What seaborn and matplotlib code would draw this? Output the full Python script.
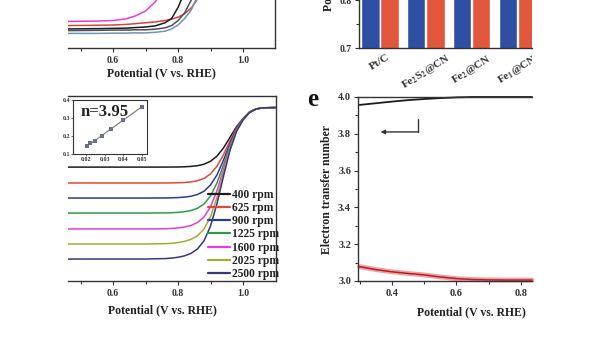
import matplotlib
matplotlib.use("Agg")
import matplotlib.pyplot as plt
from matplotlib.transforms import Bbox, TransformedBbox
import pandas as pd
import seaborn as sns

# ---------------- data ----------------
# top-left panel: LSV curves of the catalysts (only the lower part is visible)
lsv_E = [0.46, 0.55, 0.60, 0.64, 0.67, 0.70, 0.73, 0.76, 0.78, 0.80, 0.82, 0.84,
         0.86, 0.88, 0.90, 0.95, 1.00, 1.05, 1.10]
lsv_names = ["c1", "c2", "c3", "c4", "c5"]
lsv_c1 = [-5.25, -5.24, -5.22, -5.16, -5.05, -4.88, -4.55, -4.00, -3.60, -3.15, -2.70, -2.25,
          -1.80, -1.40, -1.05, -0.40, -0.08, -0.01, 0.0]
lsv_c2 = [-5.40, -5.39, -5.38, -5.36, -5.33, -5.30, -5.27, -5.22, -5.17, -5.10, -4.98, -4.78,
          -4.45, -4.00, -3.40, -1.50, -0.30, -0.05, 0.0]
lsv_c3 = [-5.52, -5.51, -5.50, -5.49, -5.47, -5.45, -5.41, -5.30, -5.15, -4.75, -4.20, -3.60,
          -3.00, -2.30, -1.60, -0.40, -0.05, 0.0, 0.0]
lsv_c4 = [-5.58, -5.57, -5.56, -5.56, -5.55, -5.55, -5.53, -5.48, -5.40, -5.22, -4.95, -4.50,
          -3.90, -3.20, -2.40, -0.70, -0.10, -0.01, 0.0]
lsv_c5 = [-5.68, -5.68, -5.67, -5.67, -5.66, -5.66, -5.64, -5.60, -5.52, -5.38, -5.15, -4.85,
          -4.35, -3.60, -2.70, -0.90, -0.12, -0.01, 0.0]
lsv_colors = ["#e040d8", "#d9443a", "#1c1c1c", "#4a4f5a", "#6f93b0"]

# top-right panel: bar chart of potentials
bar_cats = ["Pt/C", "Fe$_2$S$_2$@CN", "Fe$_2$@CN", "Fe$_1$@CN"]
bar_onset = [0.98, 0.97, 0.95, 0.93]
bar_half = [0.85, 0.88, 0.86, 0.84]

# bottom-left panel: LSV at different rotation rates
rpm_E = [0.46, 0.70, 0.76, 0.78, 0.80, 0.82, 0.84, 0.86, 0.88, 0.90, 0.92, 0.94, 0.96,
         0.98, 1.00, 1.02, 1.04, 1.06, 1.10]
rpm_labels = ["400 rpm", "625 rpm", "900 rpm", "1225 rpm", "1600 rpm", "2025 rpm", "2500 rpm"]
j_400 = [-2.06, -2.06, -2.059, -2.057, -2.055, -2.049, -2.036, -2.011, -1.960, -1.859, -1.679,
         -1.396, -1.030, -0.664, -0.380, -0.15, -0.05, -0.01, 0.0]
j_625 = [-2.61, -2.61, -2.608, -2.606, -2.601, -2.592, -2.572, -2.532, -2.451, -2.296, -2.028,
         -1.628, -1.151, -0.712, -0.395, -0.16, -0.05, -0.01, 0.0]
j_900 = [-3.13, -3.13, -3.127, -3.122, -3.114, -3.098, -3.068, -3.008, -2.894, -2.679, -2.328,
         -1.817, -1.242, -0.746, -0.406, -0.16, -0.05, -0.01, 0.0]
j_1225 = [-3.65, -3.65, -3.644, -3.638, -3.626, -3.604, -3.562, -3.485, -3.336, -3.060, -2.604,
          -1.981, -1.317, -0.773, -0.413, -0.17, -0.05, -0.01, 0.0]
j_1600 = [-4.20, -4.20, -4.192, -4.182, -4.165, -4.133, -4.078, -3.975, -3.785, -3.435, -2.873,
          -2.132, -1.382, -0.795, -0.419, -0.17, -0.05, -0.01, 0.0]
j_2025 = [-4.72, -4.72, -4.708, -4.696, -4.672, -4.630, -4.560, -4.435, -4.200, -3.775, -3.107,
          -2.258, -1.434, -0.812, -0.424, -0.17, -0.05, -0.01, 0.0]
j_2500 = [-5.24, -5.24, -5.224, -5.208, -5.180, -5.130, -5.045, -4.890, -4.610, -4.100, -3.324,
          -2.371, -1.479, -0.826, -0.428, -0.17, -0.05, -0.01, 0.0]
rpm_colors = ["#1c1c1c", "#e0483a", "#2b3a9a", "#2f9a45", "#e03ee0", "#a9a935", "#36367f"]

# inset: Koutecky-Levich plot
kl_x = [0.0204, 0.0224, 0.0250, 0.0286, 0.0333, 0.0400, 0.0500]
kl_y = [0.143, 0.160, 0.175, 0.200, 0.240, 0.287, 0.363]

# panel e: electron transfer number
e_E = [0.30, 0.35, 0.40, 0.45, 0.50, 0.55, 0.60, 0.65, 0.70, 0.75, 0.80, 0.834]
e_black = [3.957, 3.966, 3.975, 3.983, 3.989, 3.994, 3.998, 4.0, 4.0, 4.0, 4.0, 4.0]
e_red = [3.078, 3.062, 3.050, 3.041, 3.033, 3.022, 3.013, 3.008, 3.006, 3.005, 3.005, 3.005]

# ---------------- style ----------------
sns.set_theme(style="ticks")
plt.rcParams["font.family"] = ["Liberation Serif", "DejaVu Serif"]
plt.rcParams.update({
    "font.weight": "bold",
    "axes.labelweight": "bold",
    "mathtext.fontset": "stix",
    "mathtext.default": "bf",
    "axes.edgecolor": "#333333",
    "axes.linewidth": 1.0,
    "xtick.color": "#333333",
    "ytick.color": "#333333",
    "text.color": "#222222",
    "axes.labelcolor": "#222222",
    "xtick.direction": "out",
    "ytick.direction": "out",
    "xtick.major.size": 3,
    "ytick.major.size": 3,
    "xtick.minor.size": 2,
    "ytick.minor.size": 2,
    "xtick.major.width": 0.8,
    "ytick.major.width": 0.8,
    "xtick.minor.width": 0.8,
    "ytick.minor.width": 0.8,
})

W, H = 600, 338
fig = plt.figure(figsize=(6, 3.38), dpi=100)
fig.patch.set_facecolor("white")


def box(x0, y0, x1, y1):
    return [x0 / W, 1 - y1 / H, (x1 - x0) / W, (y1 - y0) / H]


TICK_FS = 7
LABEL_FS = 8.5
right_clip = TransformedBbox(Bbox([[0, 0], [532 / W, 1]]), fig.transFigure)

# ---------- top-left LSV ----------
axA = fig.add_axes(box(68, -137, 275, 48))
dfA = pd.DataFrame({
    "E": lsv_E * 5,
    "j": lsv_c1 + lsv_c2 + lsv_c3 + lsv_c4 + lsv_c5,
    "cat": sum([[n] * len(lsv_E) for n in lsv_names], []),
})
sns.lineplot(data=dfA, x="E", y="j", hue="cat", hue_order=lsv_names,
             palette=lsv_colors, ax=axA, legend=False, lw=1.1, sort=False)
axA.set_xlim(0.4615, 1.098)
axA.set_ylim(-6.2, 0.4)
axA.spines["left"].set_visible(False)
axA.tick_params(left=False, labelleft=False)
axA.set_xticks([0.6, 0.8, 1.0])
axA.set_xticks([0.5, 0.7, 0.9], minor=True)
axA.set_xticklabels(["0.6", "0.8", "1.0"])
axA.tick_params(axis="x", labelsize=TICK_FS, pad=3)
axA.set_xlabel("Potential (V vs. RHE)", fontsize=LABEL_FS)
axA.set_ylabel("")
axA.xaxis.label.set_va("center")
axA.xaxis.set_label_coords(0.453, -25 / 185)

# ---------- top-right bars ----------
axB = fig.add_axes(box(359, -144, 532, 48))
dfB = pd.DataFrame({
    "cat": bar_cats * 2,
    "val": bar_onset + bar_half,
    "kind": ["onset"] * 4 + ["half"] * 4,
})
sns.barplot(data=dfB, x="cat", y="val", hue="kind", hue_order=["onset", "half"],
            palette=["#2e4fa3", "#e2573b"], saturation=1, width=0.84, gap=0.04,
            ax=axB, legend=False)
axB.set_ylim(0.7, 1.1)
axB.set_xlim(-0.46, 3.32)
axB.spines["right"].set_visible(False)
axB.set_yticks([0.7, 0.8, 0.9, 1.0, 1.1])
axB.set_yticklabels(["0.7", "0.8", "0.9", "1.0", "1.1"])
axB.set_yticks([0.75, 0.85, 0.95, 1.05], minor=True)
axB.tick_params(axis="y", labelsize=TICK_FS, pad=2)
axB.tick_params(axis="x", length=0, labelsize=8, pad=3)
for t in axB.get_xticklabels():
    t.set_rotation(32)
    t.set_ha("center")
    t.set_clip_box(right_clip)
    t.set_clip_on(True)
axB.set_xlabel("")
axB.set_ylabel("Potential (V vs. RHE)", fontsize=LABEL_FS)
axB.yaxis.label.set_va("center")
axB.yaxis.set_label_coords(-31 / 173, (48 + 43) / 192)

# ---------- bottom-left LSV at rpm ----------
axC = fig.add_axes(box(68, 96, 276, 281))
rpm_all = [j_400, j_625, j_900, j_1225, j_1600, j_2025, j_2500]
dfC = pd.DataFrame({
    "E": rpm_E * len(rpm_labels),
    "j": sum(rpm_all, []),
    "rpm": sum([[lab] * len(rpm_E) for lab in rpm_labels], []),
})
sns.lineplot(data=dfC, x="E", y="j", hue="rpm", hue_order=rpm_labels,
             palette=rpm_colors, ax=axC, lw=1.1, sort=False)
axC.set_xlim(0.4615, 1.1015)
axC.set_ylim(-6.0, 0.4)
axC.spines["left"].set_visible(False)
axC.tick_params(left=False, labelleft=False)
axC.set_xticks([0.6, 0.8, 1.0])
axC.set_xticks([0.5, 0.7, 0.9], minor=True)
axC.set_xticklabels(["0.6", "0.8", "1.0"])
axC.tick_params(axis="x", labelsize=TICK_FS, pad=3)
axC.set_xlabel("Potential (V vs. RHE)", fontsize=LABEL_FS)
axC.set_ylabel("")
axC.xaxis.label.set_va("center")
axC.xaxis.set_label_coords(0.453, -29 / 185)
handles, labels = axC.get_legend_handles_labels()
leg = axC.legend(handles, labels, loc="lower right", bbox_to_anchor=(1.02, 0.0),
                 frameon=False, fontsize=8.3, handlelength=1.95, handletextpad=0.15,
                 labelspacing=0.1, borderaxespad=0.0, borderpad=0.1)
for lh in leg.get_lines():
    lh.set_linewidth(1.6)

# ---------- inset K-L ----------
ins = fig.add_axes(box(73, 100, 147, 154))
sns.regplot(x=kl_x, y=kl_y, ax=ins, ci=None, marker="s", truncate=True,
            scatter_kws=dict(s=5, color="#3b4a6e", linewidths=0),
            line_kws=dict(color="#777777", lw=0.8))
ins.set_xlim(0.013, 0.0528)
ins.set_ylim(0.1, 0.4)
ins.set_xticks([0.02, 0.03, 0.04, 0.05])
ins.set_xticklabels(["0.02", "0.03", "0.04", "0.05"])
ins.set_yticks([0.1, 0.2, 0.3, 0.4])
ins.set_yticklabels(["0.1", "0.2", "0.3", "0.4"])
ins.tick_params(labelsize=4.3, length=1.2, pad=1, width=0.5)
for s in ins.spines.values():
    s.set_linewidth(0.8)
ins.text(0.1, 0.78, "n=3.95", transform=ins.transAxes, fontsize=12,
         fontweight="bold", va="center", ha="left")

# ---------- panel e ----------
axD = fig.add_axes(box(358, 97, 532, 281))
dfD = pd.DataFrame({"E": e_E, "black": e_black, "red": e_red})
sns.lineplot(data=dfD, x="E", y="red", ax=axD, color="#f2a0a0", lw=3.5)
sns.lineplot(data=dfD, x="E", y="red", ax=axD, color="#b5202a", lw=1.1)
sns.lineplot(data=dfD, x="E", y="black", ax=axD, color="#1c1c1c", lw=1.3)
for ln in axD.get_lines():
    ln.set_clip_on(False)
axD.set_xlim(0.295, 0.834)
axD.set_ylim(3.0, 4.0)
axD.spines["right"].set_visible(False)
axD.set_xticks([0.4, 0.6, 0.8])
axD.set_xticks([0.3, 0.5, 0.7], minor=True)
axD.set_xticklabels(["0.4", "0.6", "0.8"])
axD.set_yticks([3.0, 3.2, 3.4, 3.6, 3.8, 4.0])
axD.set_yticklabels(["3.0", "3.2", "3.4", "3.6", "3.8", "4.0"])
axD.set_yticks([3.1, 3.3, 3.5, 3.7, 3.9], minor=True)
axD.tick_params(labelsize=7.5, pad=2)
axD.tick_params(axis="x", pad=3)
axD.set_xlabel("Potential (V vs. RHE)", fontsize=LABEL_FS)
axD.xaxis.label.set_va("center")
axD.xaxis.set_label_coords((471.5 - 358) / 174, -31 / 184)
axD.set_ylabel("Electron transfer number", fontsize=LABEL_FS)
axD.yaxis.label.set_va("center")
axD.yaxis.set_label_coords(-31 / 174, 0.5)
axD.plot([0.48, 0.48], [3.88, 3.81], color="#333333", lw=1.0)
axD.annotate("", xy=(0.365, 3.81), xytext=(0.4805, 3.81),
             arrowprops=dict(arrowstyle="-|>", color="#333333", lw=1.0,
                             mutation_scale=6, shrinkA=0, shrinkB=0))
fig.text(313 / W, 1 - 100 / H, "e", fontsize=18, fontweight="bold",
         ha="center", va="center", color="#111111")

fig.savefig("out.png", dpi=100, facecolor="white")
